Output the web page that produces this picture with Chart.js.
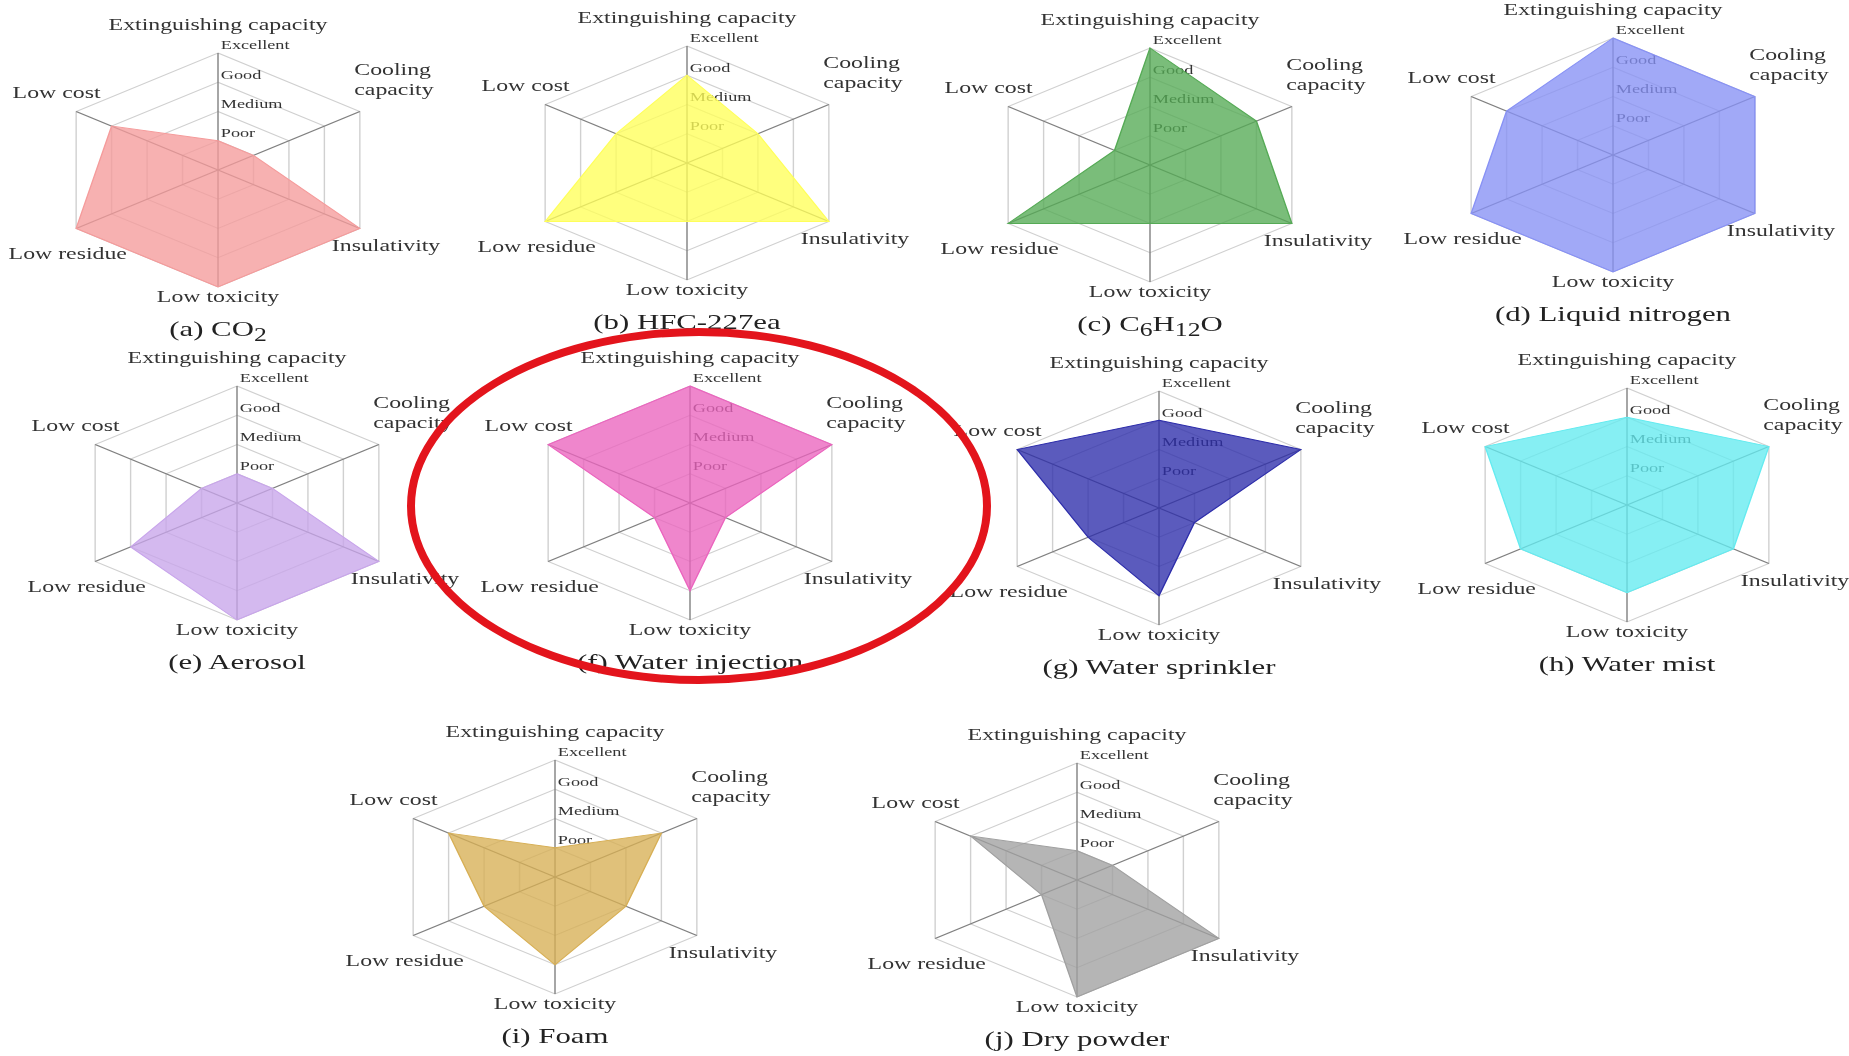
<!DOCTYPE html>
<html lang="en">
<head>
    <meta charset="UTF-8">
    <title>Extinguishing agents</title>
    <script src="https://cdn.jsdelivr.net/npm/chart.js"></script>
    <style>
        body { margin: 0; background: #fff; font-family: "Liberation Serif", serif; }
        .janela { position: relative; width: 1849px; height: 1056px; overflow: hidden; }
        canvas { position: absolute; display: block; }
        .legenda {
            position: absolute; width: 400px; text-align: center; font-size: 22px; line-height: 30px;
            color: #222; transform: scaleX(1.4); transform-origin: center;
        }
        .circulo {
            position: absolute; left: 407px; top: 328px; width: 584px; height: 356px;
            border: 8px solid #e3141c; border-radius: 50%; box-sizing: border-box; z-index: 5;
        }
    </style>
</head>
<body>
    <div class="janela" id="janela">
        <div class="circulo"></div>
    </div>

<script>
    // eixos (sentido horario a partir do topo)
    var eixos = [['Extinguishing capacity'], ['Cooling', 'capacity'], ['Insulativity'], ['Low toxicity'], ['Low residue'], ['Low cost']];
    var niveis = ['', 'Poor', 'Medium', 'Good', 'Excellent'];

    // valores: 1 = Poor ... 4 = Excellent
    var co2 = [1, 1, 4, 4, 4, 3];
    var hfc227ea = [3, 2, 4, 2, 4, 2];
    var c6h12o = [4, 3, 4, 2, 4, 1];
    var nitrogenio = [4, 4, 4, 4, 4, 3];
    var aerossol = [1, 1, 4, 4, 3, 1];
    var injecaoAgua = [4, 4, 1, 3, 1, 4];
    var sprinkler = [3, 4, 1, 3, 2, 4];
    var nevoa = [3, 4, 3, 3, 3, 4];
    var espuma = [1, 3, 2, 3, 2, 3];
    var poSeco = [1, 1, 4, 4, 1, 3];

    var legendas = ['(a) CO<sub>2</sub>', '(b) HFC-227ea', '(c) C<sub>6</sub>H<sub>12</sub>O', '(d) Liquid nitrogen',
        '(e) Aerosol', '(f) Water injection', '(g) Water sprinkler', '(h) Water mist', '(i) Foam', '(j) Dry powder'];
    var series = [co2, hfc227ea, c6h12o, nitrogenio, aerossol, injecaoAgua, sprinkler, nevoa, espuma, poSeco];
    var cores = ['245,155,155', '255,255,90', '85,170,85', '135,145,245', '200,165,235',
        '235,100,190', '45,45,170', '100,235,240', '215,175,85', '160,160,160'];

    // centro de cada radar na figura (x, y)
    var centros = [[218, 170], [687, 163], [1150, 165], [1613, 155],
        [237, 503], [690, 503], [1159, 508], [1627, 505],
        [555, 877], [1077, 880]];

    var ESTICA = 1.4;      // a figura original esta esticada na horizontal
    var LARG = 728, ALT = 320, CY = 162;

    // deslocamento dos nomes dos eixos em relacao ao vertice
    var desloc = [[0, -27, 'center'], [-4, -21, 'left'], [-20, 18, 'left'],
        [0, 11, 'center'], [-6, 26, 'center'], [-14, -18, 'center']];

    var esticar = {
        id: 'esticar',
        beforeDraw: function (chart) {
            var ctx = chart.ctx;
            var cx = chart.scales.r.xCenter;
            ctx.save();
            ctx.translate(cx, 0);
            ctx.scale(ESTICA, 1);
            ctx.translate(-cx, 0);
        },
        beforeDatasetsDraw: function (chart) {
            // Poor/Medium/Good/Excellent ficam por baixo do preenchimento
            var r = chart.scales.r;
            var ctx = chart.ctx;
            ctx.save();
            ctx.font = '13px "Liberation Serif"';
            ctx.fillStyle = '#333';
            ctx.textAlign = 'left';
            ctx.textBaseline = 'middle';
            for (var v = 1; v < niveis.length; v++) {
                var p = r.getPointPositionForValue(0, v);
                ctx.fillText(niveis[v], p.x + 2, p.y - 7);
            }
            ctx.restore();
        },
        afterDraw: function (chart) {
            var r = chart.scales.r;
            var ctx = chart.ctx;
            ctx.save();
            ctx.font = '17px "Liberation Serif"';
            ctx.fillStyle = '#333';
            ctx.textBaseline = 'middle';
            for (var i = 0; i < eixos.length; i++) {
                var p = r.getPointPosition(i, r.drawingArea);
                var linhas = eixos[i];
                ctx.textAlign = desloc[i][2];
                for (var k = 0; k < linhas.length; k++) {
                    var y = p.y + desloc[i][1] - (linhas.length - 1 - k) * 20;
                    ctx.fillText(linhas[k], p.x + desloc[i][0], y);
                }
            }
            ctx.restore();
            ctx.restore();
        }
    };

    function criarGrafico(i) {
        var janela = document.getElementById('janela');
        var canvas = document.createElement('canvas');
        canvas.width = LARG;
        canvas.height = ALT;
        canvas.style.left = (centros[i][0] - LARG / 2) + 'px';
        canvas.style.top = (centros[i][1] - CY) + 'px';
        janela.appendChild(canvas);

        var legenda = document.createElement('div');
        legenda.className = 'legenda';
        legenda.innerHTML = legendas[i];
        legenda.style.left = (centros[i][0] - 200) + 'px';
        legenda.style.top = (centros[i][1] + 144) + 'px';
        janela.appendChild(legenda);

        new Chart(canvas, {
            type: 'radar',
            data: {
                labels: eixos,
                datasets: [{
                    data: series[i],
                    backgroundColor: 'rgba(' + cores[i] + ',0.78)',
                    borderColor: 'rgba(' + cores[i] + ',1)',
                    borderWidth: 1,
                    pointRadius: 0
                }]
            },
            options: {
                responsive: false,
                animation: false,
                layout: { padding: { top: 45, bottom: ALT - 45 - 234 } },
                plugins: { legend: { display: false }, tooltip: { enabled: false } },
                scales: {
                    r: {
                        min: 0,
                        max: 4,
                        ticks: { stepSize: 1, display: false },
                        grid: { color: '#d0d0d0' },
                        angleLines: { color: '#808080' },
                        pointLabels: { display: false }
                    }
                }
            },
            plugins: [esticar]
        });
    }

    for (var i = 0; i < series.length; i++) {
        criarGrafico(i);
    }
</script>
</body>
</html>
